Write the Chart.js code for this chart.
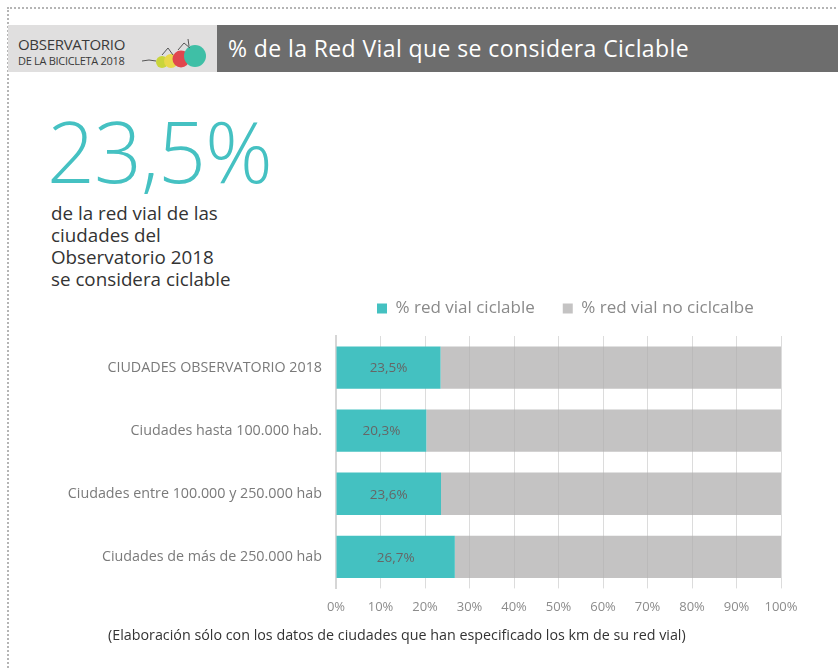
<!DOCTYPE html>
<html>
<head>
<meta charset="utf-8">
<script src="https://cdn.jsdelivr.net/npm/chart.js@4.4.0/dist/chart.umd.min.js"></script>
<style>
  html, body { margin: 0; padding: 0; background: #fff; }
  body { width: 838px; height: 669px; position: relative; overflow: hidden; font-family: 'Open Sans', sans-serif; }
  .frame { position: absolute; left: 7px; top: 7px; right: -10px; bottom: -10px; border-top: 2px dotted #b5b5b5; border-left: 2px dotted #b5b5b5; }
  .hdr-left { position: absolute; left: 8px; top: 25px; width: 209px; height: 47px; background: #e0dfdf; }
  .hdr-left .t1 { position: absolute; left: 10px; top: 9px; font-size: 15px; color: #3a3a3a; letter-spacing: -0.3px; }
  .hdr-left .t2 { position: absolute; left: 10px; top: 28px; font-size: 11px; color: #3a3a3a; letter-spacing: -0.3px; }
  .hdr-left svg { position: absolute; left: 132px; top: 8px; }
  .hdr-right { position: absolute; left: 217px; top: 25px; right: 0; height: 47px; background: #6d6d6d; color: #fff; font-size: 23px; letter-spacing: 0.4px; line-height: 47px; padding-left: 11px; }
  .big { position: absolute; left: 47px; top: 93px; font-size: 84px; color: #45c1c2; font-weight: 300; letter-spacing: -1px; }
  .sub { position: absolute; left: 51px; top: 202px; font-size: 18.8px; line-height: 22px; color: #333; }
  .note { position: absolute; left: 108px; top: 625px; font-size: 14.3px; color: #333; }
  #chartBox { position: absolute; left: 0; top: 272px; width: 838px; height: 358px; }
</style>
</head>
<body>
<div class="frame"></div>
<div class="hdr-left">
  <div class="t1">OBSERVATORIO</div>
  <div class="t2">DE LA BICICLETA 2018</div>
  <svg width="76" height="40" viewBox="0 0 76 40">
    <path d="M2 28 Q9 26 16 28" stroke="#555" stroke-width="1" fill="none"/>
    <circle cx="22" cy="29" r="6" fill="#c9d53b"/>
    <circle cx="31" cy="28" r="7" fill="#e9d84a"/>
    <circle cx="41" cy="26" r="8.5" fill="#e0474e"/>
    <circle cx="55" cy="23" r="11" fill="#3fbfa6"/>
    <path d="M22 22 L28 15 L33 22 M38 17 L44 10 L50 15 M48 6 L49 13" stroke="#555" stroke-width="1" fill="none"/>
  </svg>
</div>
<div class="hdr-right">% de la Red Vial que se considera Ciclable</div>
<div class="big">23,5%</div>
<div class="sub">de la red vial de las<br>ciudades del<br>Observatorio 2018<br>se considera ciclable</div>
<div id="chartBox"><canvas id="barChart"></canvas></div>
<div class="note">(Elaboración sólo con los datos de ciudades que han especificado los km de su red vial)</div>

<script>
const categories = [
    'CIUDADES OBSERVATORIO 2018',
    'Ciudades hasta 100.000 hab.',
    'Ciudades entre 100.000 y 250.000 hab',
    'Ciudades de más de 250.000 hab'
];
const ciclable = [23.5, 20.3, 23.6, 26.7];
const noCiclable = [76.5, 79.7, 76.4, 73.3];
const seriesNames = ['% red vial ciclable', '% red vial no ciclcalbe'];
const xTicks = [0, 10, 20, 30, 40, 50, 60, 70, 80, 90, 100];

const fmt = v => v.toFixed(1).replace('.', ',') + '%';

document.addEventListener('DOMContentLoaded', function(){
    const ctx = document.getElementById('barChart').getContext('2d');

    // labels inside the teal bars
    const valueLabels = {
        id: 'valueLabels',
        afterDatasetsDraw(chart) {
            const meta = chart.getDatasetMeta(0);
            const c = chart.ctx;
            c.save();
            c.font = '13.5px "Open Sans"';
            c.fillStyle = '#666';
            c.textAlign = 'center';
            c.textBaseline = 'middle';
            meta.data.forEach((bar, i) => {
                c.fillText(fmt(ciclable[i]), (bar.x + bar.base) / 2, bar.y + 1);
            });
            c.restore();
        }
    };

    // legend starts over the plot instead of centred on the whole canvas
    const legendPad = 28;
    const legendPlace = {
        id: 'legendPlace',
        beforeInit(chart) {
            const fit = chart.legend.fit;
            chart.legend.fit = function(){ fit.bind(chart.legend)(); this.height += 9; };
        },
        afterLayout(chart) {
            const lg = chart.legend;
            lg.left = 377 - legendPad;
            lg.right = chart.width;
        }
    };

    new Chart(ctx, {
        type: 'bar',
        data: {
            labels: categories,
            datasets: [
                { label: seriesNames[0], data: ciclable, backgroundColor: '#44c1c1', barPercentage: 0.67, categoryPercentage: 1 },
                { label: seriesNames[1], data: noCiclable, backgroundColor: 'rgba(176,175,175,0.75)', barPercentage: 0.67, categoryPercentage: 1 }
            ]
        },
        options: {
            indexAxis: 'y',
            responsive: true,
            maintainAspectRatio: false,
            animation: false,
            layout: { padding: { left: 0, right: 57, top: 0, bottom: 4 } },
            scales: {
                x: {
                    stacked: true,
                    min: 0,
                    max: 100,
                    afterBuildTicks: s => { s.ticks = xTicks.map(v => ({ value: v })); },
                    grid: { color: '#dcdcdc', drawTicks: true, tickLength: 0 },
                    border: { display: false },
                    ticks: {
                        color: '#8c8c8c',
                        padding: 11,
                        font: { family: 'Open Sans', size: 13 },
                        callback: v => v + '%'
                    }
                },
                y: {
                    stacked: true,
                    afterFit: s => { s.width = 336; },
                    grid: { display: false },
                    border: { color: '#d6d6d6', width: 2 },
                    ticks: {
                        color: '#7a7a7a',
                        padding: 6,
                        font: { family: 'Open Sans', size: 14.3 }
                    }
                }
            },
            plugins: {
                legend: {
                    position: 'top',
                    align: 'start',
                    labels: {
                        boxWidth: 10,
                        boxHeight: 10,
                        padding: legendPad,
                        color: '#8a8a8a',
                        font: { family: 'Open Sans', size: 17 }
                    }
                },
                tooltip: { enabled: false }
            }
        },
        plugins: [valueLabels, legendPlace]
    });
});
</script>
</body>
</html>
